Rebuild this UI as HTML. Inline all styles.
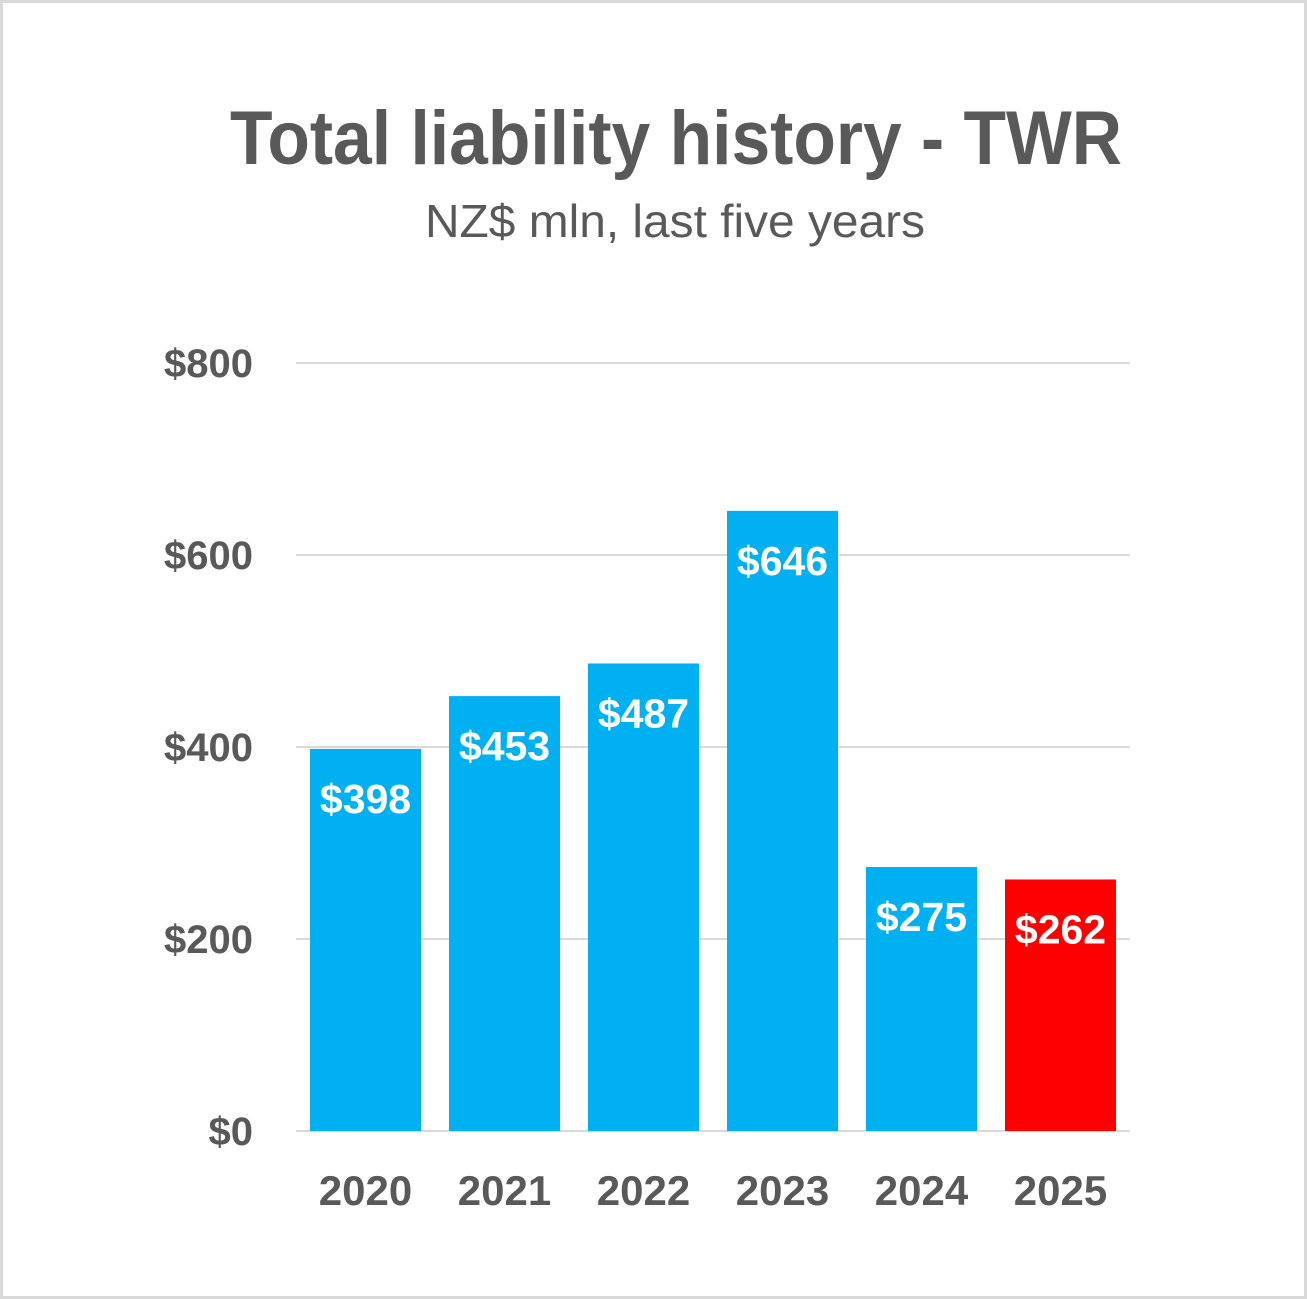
<!DOCTYPE html>
<html><head><meta charset="utf-8"><style>
html,body{margin:0;padding:0;background:#fff}
svg{display:block}
text{font-family:"Liberation Sans",sans-serif}
</style></head><body>
<svg id="chart" width="1307" height="1299">
<rect x="1.5" y="1.5" width="1304" height="1296" fill="#fff" stroke="#d9d9d9" stroke-width="3"/>
<text x="676" y="164" text-anchor="middle" font-size="76" font-weight="bold" fill="#595959" textLength="892" lengthAdjust="spacingAndGlyphs">Total liability history - TWR</text>
<text x="675" y="237" text-anchor="middle" font-size="46" fill="#595959" textLength="500" lengthAdjust="spacingAndGlyphs">NZ$ mln, last five years</text>
<g id="grid"></g><g id="bars"></g><g id="labels"></g>
</svg>
<script>
const categories=["2020","2021","2022","2023","2024","2025"];
const values=[398,453,487,646,275,262];
const colors=["#00b0f0","#00b0f0","#00b0f0","#00b0f0","#00b0f0","#ff0000"];
const ticks=[0,200,400,600,800];
const tickLabels=["$0","$200","$400","$600","$800"];
const NS="http://www.w3.org/2000/svg";
const x0=296,x1=1130,y0=1131,y1=363,vmax=800;
const band=(x1-x0)/categories.length,bw=111;
function yScale(v){return y0-(v/vmax)*(y0-y1);}
function xScale(i){return x0+i*band+(band-bw)/2;}
function mk(tag,attrs,parent){const e=document.createElementNS(NS,tag);for(const k in attrs)e.setAttribute(k,attrs[k]);parent.appendChild(e);return e;}
const grid=document.getElementById('grid'),bars=document.getElementById('bars'),labels=document.getElementById('labels');
ticks.forEach((t,i)=>{
 const y=yScale(t);
 const l=mk('line',{x1:x0,x2:x1,y1:y,y2:y,stroke:'#d9d9d9','stroke-width':2},grid);
 
 
 const tx=mk('text',{x:253,y:y+14,'text-anchor':'end','font-size':40,'font-weight':'bold',fill:'#595959'},grid);
 tx.textContent=tickLabels[i];
 
 
});
categories.forEach((c,i)=>{
 const x=xScale(i),y=yScale(values[i]);
 const r=mk('rect',{x:x,y:y,width:bw,height:y0-y,fill:colors[i]},bars);
 
 
 const v=mk('text',{x:x+bw/2,y:y+64,'text-anchor':'middle','font-size':41,'font-weight':'bold',fill:'#fff'},labels);
 v.textContent='$'+values[i];
 
 
 const xl=mk('text',{x:x+bw/2,y:1205,'text-anchor':'middle','font-size':42,'font-weight':'bold',fill:'#595959'},labels);
 xl.textContent=c;
 
 
});
</script>
</body></html>
